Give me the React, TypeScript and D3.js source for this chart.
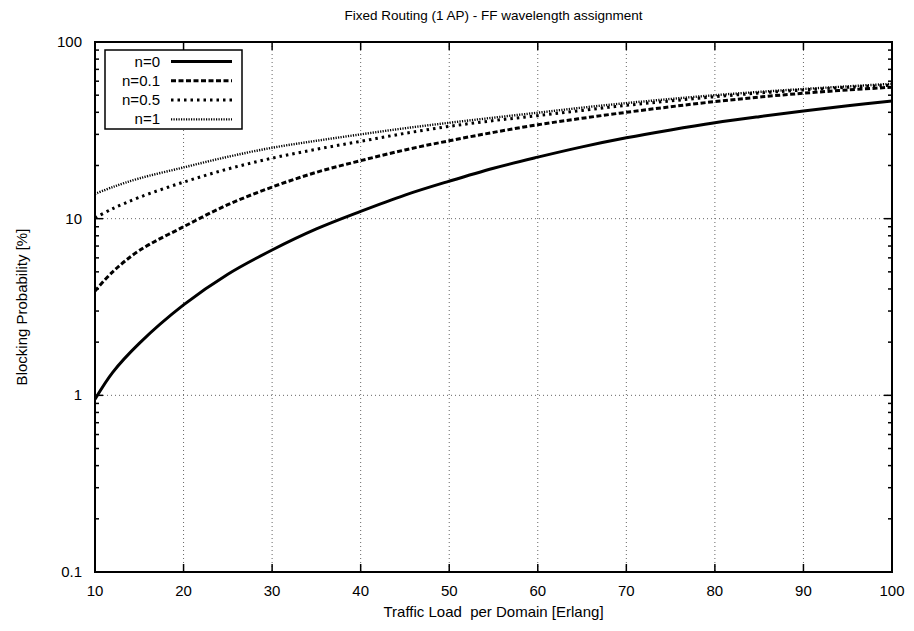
import React from "react";
import * as d3 from "d3";

const loads = [10, 12, 15, 20, 25, 30, 35, 40, 45, 50, 55, 60, 65, 70, 75, 80, 85, 90, 95, 100];
const n0 = [0.95, 1.35, 1.97, 3.25, 4.85, 6.65, 8.75, 11, 13.6, 16.3, 19.3, 22.3, 25.5, 28.7, 31.8, 34.9, 37.8, 40.7, 43.6, 46.4];
const n01 = [3.9, 5.0, 6.6, 9.0, 12, 15.1, 18.3, 21.3, 24.5, 27.6, 30.8, 34, 37, 40, 43, 46, 48.8, 51.3, 53.5, 55.5];
const n05 = [10.1, 11.4, 13.2, 16.1, 19.1, 22, 24.7, 27.4, 30.4, 33.3, 35.9, 38.3, 41, 43.8, 46.4, 49, 51.4, 53.5, 55.4, 57];
const n1 = [13.8, 15.1, 16.9, 19.5, 22.4, 25.2, 27.6, 30, 32.5, 34.9, 37.3, 39.8, 42.5, 45.1, 47.6, 50, 52.2, 54.2, 56.1, 58];

const seriesNames = ["n=0", "n=0.1", "n=0.5", "n=1"];
const seriesValues = [n0, n01, n05, n1];
const xTicks = [10, 20, 30, 40, 50, 60, 70, 80, 90, 100];
const yTicks = [0.1, 1, 10, 100];
const yTickLabels = ["0.1", "1", "10", "100"];

const title = "Fixed Routing (1 AP) - FF wavelength assignment";
const xLabel = "Traffic Load  per Domain [Erlang]";
const yLabel = "Blocking Probability [%]";

const styles = [
  { width: 3, dash: "none" },
  { width: 3, dash: "5 2.5" },
  { width: 3, dash: "2.5 4" },
  { width: 2.4, dash: "1.2 1.3" },
];

export default function App() {
  const W = 914, H = 631;
  const left = 95, right = 892, top = 42, bottom = 572;
  const x = d3.scaleLinear().domain([10, 100]).range([left, right]);
  const y = d3.scaleLog().domain([0.1, 100]).range([bottom, top]);
  const line = d3
    .line<[number, number]>()
    .x((d) => x(d[0]))
    .y((d) => y(d[1]))
    .curve(d3.curveCatmullRom.alpha(0.5));

  const minor: number[] = [];
  for (let dec = 0.1; dec < 100; dec *= 10) {
    for (let k = 2; k <= 9; k++) minor.push(+(dec * k).toPrecision(3));
  }
  const font = "'Liberation Sans', Arial, Helvetica, sans-serif";

  return (
    <svg width={W} height={H} style={{ position: "absolute", left: 0, top: 0, background: "#fff" }} fontFamily={font}>
      <rect x={0} y={0} width={W} height={H} fill="#fff" />
      <text x={(left + right) / 2} y={20} textAnchor="middle" fontSize={13.5}>{title}</text>
      {/* grid */}
      {xTicks.slice(1, -1).map((t) => (
        <line key={"gx" + t} x1={x(t)} x2={x(t)} y1={top} y2={bottom} stroke="#666" strokeWidth={1} strokeDasharray="1 3" />
      ))}
      {[1, 10].map((t) => (
        <line key={"gy" + t} x1={left} x2={right} y1={y(t)} y2={y(t)} stroke="#666" strokeWidth={1} strokeDasharray="1 3" />
      ))}
      {/* ticks */}
      {xTicks.map((t) => (
        <g key={"xt" + t}>
          <line x1={x(t)} x2={x(t)} y1={bottom} y2={bottom - 8} stroke="#000" strokeWidth={1.5} />
          <line x1={x(t)} x2={x(t)} y1={top} y2={top + 8} stroke="#000" strokeWidth={1.5} />
          <text x={x(t)} y={bottom + 24} textAnchor="middle" fontSize={15}>{t}</text>
        </g>
      ))}
      {yTicks.map((t, i) => (
        <g key={"yt" + t}>
          <line x1={left} x2={left + 8} y1={y(t)} y2={y(t)} stroke="#000" strokeWidth={1.5} />
          <line x1={right} x2={right - 8} y1={y(t)} y2={y(t)} stroke="#000" strokeWidth={1.5} />
          <text x={left - 13} y={y(t) + 5} textAnchor="end" fontSize={15}>{yTickLabels[i]}</text>
        </g>
      ))}
      {minor.map((t) => (
        <g key={"ym" + t}>
          <line x1={left} x2={left + 4} y1={y(t)} y2={y(t)} stroke="#000" strokeWidth={1.5} />
          <line x1={right} x2={right - 4} y1={y(t)} y2={y(t)} stroke="#000" strokeWidth={1.5} />
        </g>
      ))}
      {/* curves */}
      <defs>
        <clipPath id="plotclip">
          <rect x={left} y={top} width={right - left} height={bottom - top} />
        </clipPath>
      </defs>
      <g clipPath="url(#plotclip)">
        {seriesValues.map((vals, i) => (
          <path
            key={"s" + i}
            d={line(loads.map((l, j) => [l, vals[j]] as [number, number])) || ""}
            fill="none"
            stroke="#000"
            strokeWidth={styles[i].width}
            strokeDasharray={styles[i].dash}
          />
        ))}
      </g>
      {/* frame */}
      <rect x={left} y={top} width={right - left} height={bottom - top} fill="none" stroke="#000" strokeWidth={2} />
      {/* legend */}
      <rect x={105} y={50} width={137} height={79} fill="#fff" stroke="#000" strokeWidth={1.5} />
      {seriesNames.map((name, i) => (
        <g key={"lg" + i}>
          <text x={160} y={66.5 + i * 19.3} textAnchor="end" fontSize={15}>{name}</text>
          <line x1={171} x2={232} y1={61.5 + i * 19.3} y2={61.5 + i * 19.3} stroke="#000" strokeWidth={styles[i].width} strokeDasharray={styles[i].dash} />
        </g>
      ))}
      {/* axis labels */}
      <text x={(left + right) / 2} y={bottom + 45} textAnchor="middle" fontSize={15} style={{ whiteSpace: "pre" }}>{xLabel}</text>
      <text transform={`translate(27, ${(top + bottom) / 2}) rotate(-90)`} textAnchor="middle" fontSize={15}>{yLabel}</text>
    </svg>
  );
}
